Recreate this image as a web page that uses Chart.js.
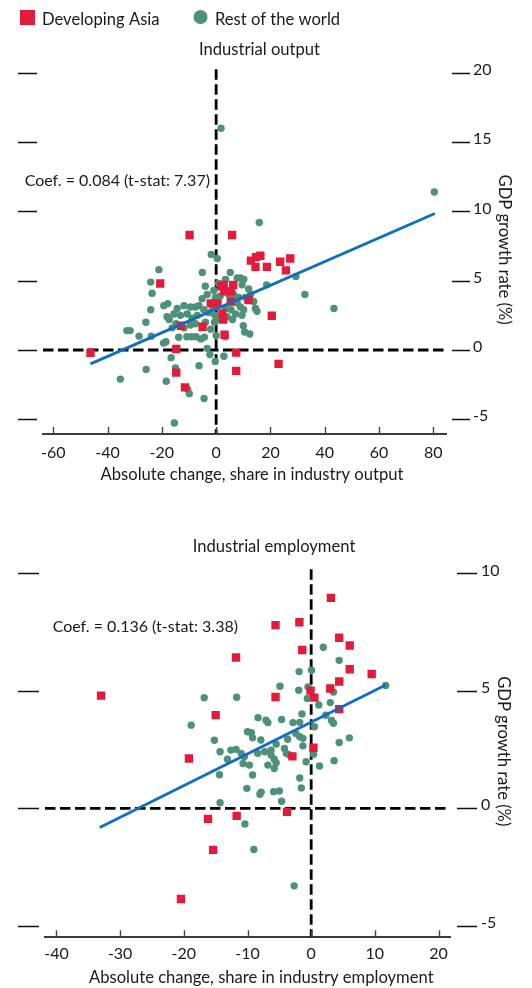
<!DOCTYPE html>
<html><head><meta charset="utf-8">
<script src="https://cdn.jsdelivr.net/npm/chart.js@4.4.1/dist/chart.umd.min.js"></script>
<style>
html,body{margin:0;padding:0;background:#fff;}
#wrap{position:relative;width:532px;height:988px;overflow:hidden;}
.box{position:absolute;left:0;width:532px;}
canvas{display:block;}
</style></head><body>
<div id="wrap">
  <div class="box" style="top:0;height:500px"><canvas id="c1" width="532" height="500"></canvas></div>
  <div class="box" style="top:500px;height:488px"><canvas id="c2" width="532" height="488"></canvas></div>
</div>
<script>
// ---------------- DATA ----------------
const SERIES_NAMES = ['Developing Asia', 'Rest of the world'];
const TITLES = ['Industrial output', 'Industrial employment'];
const X_TITLES = ['Absolute change, share in industry output', 'Absolute change, share in industry employment'];
const Y_TITLE = 'GDP growth rate (%)';
const COEF_TEXT = ['Coef. = 0.084 (t-stat: 7.37)', 'Coef. = 0.136 (t-stat: 3.38)'];

const OUT_X_TICKS = [-60, -40, -20, 0, 20, 40, 60, 80];
const OUT_Y_TICKS = [-5, 0, 5, 10, 15, 20];
const EMP_X_TICKS = [-40, -30, -20, -10, 0, 10, 20];
const EMP_Y_TICKS = [-5, 0, 5, 10];

// Industrial output: Developing Asia [x, y]
const OUT_ASIA = [
  [-46.3,-0.2],[-20.6,4.8],[-9.8,8.3],[5.9,8.3],
  [12.8,6.45],[14.7,6.7],[16.3,6.8],[14.5,6.0],[18.7,6.0],[23.6,6.37],[25.7,5.75],[27.3,6.6],
  [1.8,4.6],[2.8,4.7],[6.3,4.69],[3.0,4.23],[5.4,4.23],[-2.0,3.37],[0.5,3.37],[5.4,3.49],[11.9,3.61],
  [2.3,2.64],[2.6,2.2],[-5.0,1.68],[-13.0,1.75],[3.1,1.1],[20.5,2.47],[-14.7,0.07],[7.4,-0.19],
  [23.0,-1.0],[7.4,-1.5],[-14.7,-1.63],[-11.5,-2.7]
];
// Industrial output: Rest of the world [x, y]
const OUT_ROW = [
  [1.8,16.0],[80.4,11.4],[15.9,9.2],
  [-1.8,6.9],[0.4,6.6],[-21.1,5.8],[-5.1,5.6],[5.2,5.6],[18.6,4.7],[29.4,5.3],[32.7,4.0],[43.4,3.0],
  [-24.1,4.9],[-23.6,4.1],[-24.1,2.9],[-25.9,2.0],[-32.9,1.4],[-31.7,1.4],[-28.4,1.0],[-23.9,1.0],
  [-19.4,0.5],[-18.5,0.6],[-19.3,3.2],[-17.8,3.35],[-18.1,2.4],[-17.3,2.2],
  [-16.6,-0.55],[-25.8,-1.4],[-35.3,-2.1],[-18.4,-2.25],[-15.0,-1.3],[-6.3,-1.13],[-3.3,0.12],[-2.3,-0.33],
  [-0.35,-0.82],[2.85,-0.45],[-10.5,-2.84],[-9.9,-3.15],[-4.45,-3.5],[-15.4,-5.27],
  [0.0,1.05],[-10.8,0.96],[-9.0,0.96],[-7.4,0.96],[-5.6,0.8],[-4.3,0.93],[-13.8,0.92],[3.4,0.96],[-9.5,1.8],
  [10.0,1.75],[10.5,1.3],[12.4,1.15],
  [-4.0,4.6],[-3.3,4.0],[-5.2,3.7],[-6.35,3.2],[-7.65,3.1],[-9.45,3.1],[-11.85,3.2],[-14.35,3.0],
  [-15.55,2.6],[-13.15,2.5],[-10.65,2.6],[-8.85,2.3],[-6.95,2.5],[-4.55,2.9],[-2.75,2.7],[-3.95,2.0],
  [-7.65,1.9],[-11.85,1.6],
  [7.75,3.4],[8.95,3.1],[10.15,2.9],[7.15,2.6],[9.55,2.5],[13.85,3.5],[14.45,3.0],[15.05,2.8],
  [10.75,3.8],[8.35,3.8],[4.65,4.0],[-0.85,4.3],[0.95,4.8],[3.45,5.1],[7.75,5.2],[6.45,4.0],[9.55,4.7],
  [9.0,5.2],[10.2,5.1],[12.0,4.4],[12.7,4.0],
  [5.5,2.9],[3.5,3.0],[1.0,2.2],[-0.5,2.5],[6.0,2.2],[-0.3,3.8],[-1.2,3.1],[1.5,3.9],[-0.6,2.0],
  [4.0,2.4],[-2.0,1.5],[-14.8,1.9],[-16.2,1.6]
];
// Industrial output: fitted line end points
const OUT_FIT_X = [-46.3, 80.6];
const OUT_FIT_Y = [-1.0, 9.85];

// Industrial employment: Developing Asia [x, y]
const EMP_ASIA = [
  [3.1,8.96],[-5.6,7.8],[-1.85,7.92],[4.4,7.26],[6.05,6.93],[-1.4,6.74],[-11.8,6.42],[6.05,5.92],
  [9.5,5.72],[4.4,5.4],[-33.0,4.8],[-0.1,5.01],[3.0,5.1],[0.5,4.71],[-5.6,4.74],[4.4,4.22],
  [-15.0,3.97],[-19.2,2.12],[0.35,2.58],[-2.95,2.21],[-16.2,-0.45],[-11.7,-0.32],[-3.8,-0.15],
  [-15.4,-1.77],[-20.45,-3.86]
];
// Industrial employment: Rest of the world [x, y]
const EMP_ROW = [
  [1.9,6.86],[4.4,6.3],[-1.9,5.82],[0.05,5.88],[-4.9,5.2],[-1.95,5.03],[-0.5,5.17],[3.5,4.95],
  [-16.8,4.71],[-11.7,4.73],[11.7,5.23],[1.2,4.4],[3.0,4.5],[-0.6,4.68],[-18.85,3.54],[-8.35,3.86],
  [-7.1,3.75],[-6.8,3.65],[-4.65,3.78],[-2.85,3.65],[-1.8,3.66],[-1.45,4.02],[0.5,3.47],[2.3,3.96],
  [3.2,3.74],[3.5,3.62],
  [-10.0,3.26],[-9.4,3.22],[-9.2,3.0],[-15.2,2.9],[-7.9,2.91],[-3.7,2.94],[-2.4,3.19],[-1.8,3.05],
  [-1.3,2.98],[-14.3,2.41],[-12.6,2.48],[-11.8,2.51],[-11.0,2.34],[-13.15,2.09],[-10.5,2.2],[-10.7,1.91],
  [-8.4,2.34],[-7.3,2.41],[-6.3,2.48],[-5.5,2.74],[-4.2,2.55],[-3.9,2.34],[-6.3,2.27],[-5.8,2.09],
  [-6.8,1.84],[-5.8,1.7],[-5.5,1.94],[-9.7,1.84],[-9.2,1.42],[-14.4,1.43],[-3.4,2.27],[-0.8,1.98],
  [1.3,1.8],[4.4,2.8],[6.0,3.0],[3.6,2.03],[0.37,2.3],[-1.3,2.66],[-1.8,1.29],[-1.55,0.87],
  [-10.1,0.85],[-8.05,0.6],[-7.85,0.69],[-5.9,0.71],[-5.0,0.74],[-4.65,0.3],[-14.3,0.24],
  [-10.4,-0.67],[-9.0,-1.75],[-2.67,-3.3]
];
// Industrial employment: fitted line end points
const EMP_FIT_X = [-33.2, 11.7];
const EMP_FIT_Y = [-0.82, 5.25];

// ---------------- STYLE ----------------
const RED = '#E31A3A', GREEN = '#4C9178', BLUE = '#0F6EBE', INK = '#1a1a1a';
const FAMILY = 'Lato, "Open Sans", sans-serif';
const FONT_BIG = '16.6px ' + FAMILY;
const FONT = '16px ' + FAMILY;
Chart.defaults.font.family = FAMILY;
Chart.defaults.font.size = 16;
Chart.defaults.color = INK;

const decor = {
  id: 'decor',
  beforeDatasetsDraw(chart, args, o) {
    const {ctx, chartArea: a, scales: {x, y}} = chart;
    const x0 = x.getPixelForValue(0), y0 = y.getPixelForValue(0);
    ctx.save();
    ctx.strokeStyle = '#000'; ctx.lineWidth = 2.8; ctx.setLineDash([10.5, 4.5]);
    ctx.beginPath(); ctx.moveTo(a.left, y0); ctx.lineTo(a.right, y0); ctx.stroke();
    ctx.beginPath(); ctx.moveTo(x0, a.top + o.vTop); ctx.lineTo(x0, a.bottom); ctx.stroke();
    ctx.restore();
  },
  afterDraw(chart, args, o) {
    const {ctx, chartArea: a, scales: {x, y}} = chart;
    ctx.save();
    // side tick marks on the y axis
    ctx.strokeStyle = '#111'; ctx.lineWidth = 1.4;
    y.ticks.forEach(t => {
      const py = Math.round(y.getPixelForValue(t.value)) + 0.5;
      ctx.beginPath();
      ctx.moveTo(a.left - o.lGap - o.lLen, py); ctx.lineTo(a.left - o.lGap, py);
      ctx.moveTo(a.right + o.rGap, py); ctx.lineTo(a.right + o.rGap + o.rLen, py);
      ctx.stroke();
    });
    // upward tick marks on the x axis
    ctx.strokeStyle = '#444'; ctx.lineWidth = 1.4;
    x.ticks.forEach(t => {
      const px = Math.round(x.getPixelForValue(t.value)) + 0.5;
      ctx.beginPath(); ctx.moveTo(px, a.bottom); ctx.lineTo(px, a.bottom - 7); ctx.stroke();
    });
    // texts
    ctx.fillStyle = INK; ctx.textBaseline = 'alphabetic';
    ctx.font = FONT_BIG;
    o.texts.forEach(t => { ctx.textAlign = 'center'; ctx.fillText(t.text, t.x, t.y); });
    ctx.font = FONT;
    ctx.textAlign = o.coef.align;
    ctx.fillText(o.coef.text, x.getPixelForValue(o.coef.xv), y.getPixelForValue(o.coef.yv));
    // legend
    if (o.legend) {
      const ds = chart.data.datasets;
      ctx.font = FONT_BIG;
      ctx.textAlign = 'left';
      ctx.fillStyle = ds[1].backgroundColor; ctx.fillRect(20, 10, 15, 15);
      ctx.fillStyle = INK; ctx.fillText(ds[1].label, 42, 24.8);
      ctx.fillStyle = ds[2].backgroundColor;
      ctx.beginPath(); ctx.arc(200.5, 17, 7, 0, Math.PI * 2); ctx.fill();
      ctx.fillStyle = INK; ctx.fillText(ds[2].label, 215, 24.8);
    }
    ctx.restore();
  }
};

const pts = arr => arr.map(p => ({x: p[0], y: p[1]}));
const fit = (xs, ys) => xs.map((v, i) => ({x: v, y: ys[i]}));
const ticksFrom = arr => s => { s.ticks = arr.map(v => ({value: v})); };

function makeChart(id, s) {
  return new Chart(document.getElementById(id), {
    type: 'scatter',
    data: { datasets: [
      { label: 'Fitted line', data: fit(s.fitX, s.fitY), showLine: true, borderColor: BLUE,
        backgroundColor: BLUE, borderWidth: 2.8, pointRadius: 0, order: 0 },
      { label: SERIES_NAMES[0], data: pts(s.asia), pointStyle: 'rect', pointRadius: 5.9,
        backgroundColor: RED, borderWidth: 0, pointBorderWidth: 0, order: 1 },
      { label: SERIES_NAMES[1], data: pts(s.row), pointStyle: 'circle', pointRadius: 3.7,
        backgroundColor: GREEN, borderWidth: 0, pointBorderWidth: 0, order: 2 }
    ]},
    options: {
      responsive: false, animation: false, events: [],
      layout: { padding: s.pad },
      plugins: { legend: {display: false}, tooltip: {enabled: false}, title: {display: false}, decor: s.decor },
      scales: {
        x: { type: 'linear', min: s.xMin, max: s.xMax, afterBuildTicks: ticksFrom(s.xTicks),
             grid: {display: false, drawTicks: false}, border: {display: true, color: '#3d3d3d', width: 2},
             ticks: {padding: s.xPad, maxRotation: 0, autoSkip: false, color: INK},
             afterFit: sc => { sc.height = 32; } },
        y: { type: 'linear', position: 'left', min: s.yMin, max: s.yMax, afterBuildTicks: ticksFrom(s.yTicks),
             grid: {display: false, drawTicks: false}, border: {display: false}, ticks: {display: false},
             afterFit: sc => { sc.width = s.leftW; } },
        y2: { type: 'linear', position: 'right', min: s.yMin, max: s.yMax, afterBuildTicks: ticksFrom(s.yTicks),
              grid: {display: false, drawTicks: true, tickLength: s.rT}, border: {display: false},
              ticks: {padding: 3, labelOffset: -3, autoSkip: false, color: INK},
              title: {display: true, text: Y_TITLE, padding: {top: 0, bottom: 0}, color: INK, font: {size: 16.6}},
              afterFit: sc => { sc.width = s.rightW; } }
      }
    },
    plugins: [decor]
  });
}

makeChart('c1', {
  asia: OUT_ASIA, row: OUT_ROW, fitX: OUT_FIT_X, fitY: OUT_FIT_Y,
  xMin: -63.8, xMax: 84.7, yMin: -6.06, yMax: 20.55, xTicks: OUT_X_TICKS, yTicks: OUT_Y_TICKS,
  pad: {left: 0, right: 18, top: 65.2, bottom: 34}, leftW: 43, rightW: 68, rT: 24, xPad: 8.9,
  decor: { vTop: 4, lGap: 6, lLen: 19, rGap: 6, rLen: 18, legend: true,
    texts: [{text: TITLES[0], x: 259.5, y: 54.8}, {text: X_TITLES[0], x: 252, y: 479.5}],
    coef: {text: COEF_TEXT[0], xv: -2.28, yv: 11.8, align: 'right'} }
});

makeChart('c2', {
  asia: EMP_ASIA, row: EMP_ROW, fitX: EMP_FIT_X, fitY: EMP_FIT_Y,
  xMin: -41.8, xMax: 21.8, yMin: -5.49, yMax: 10.35, xTicks: EMP_X_TICKS, yTicks: EMP_Y_TICKS,
  pad: {left: 0, right: 18.4, top: 65.2, bottom: 18.7}, leftW: 45, rightW: 63.6, rT: 28, xPad: 6.6,
  decor: { vTop: 4, lGap: 6, lLen: 21, rGap: 7, rLen: 20, legend: false,
    texts: [{text: TITLES[1], x: 274, y: 51.5}, {text: X_TITLES[1], x: 261.3, y: 483}],
    coef: {text: COEF_TEXT[1], xv: -40.6, yv: 7.5, align: 'left'} }
});
</script>
</body></html>
